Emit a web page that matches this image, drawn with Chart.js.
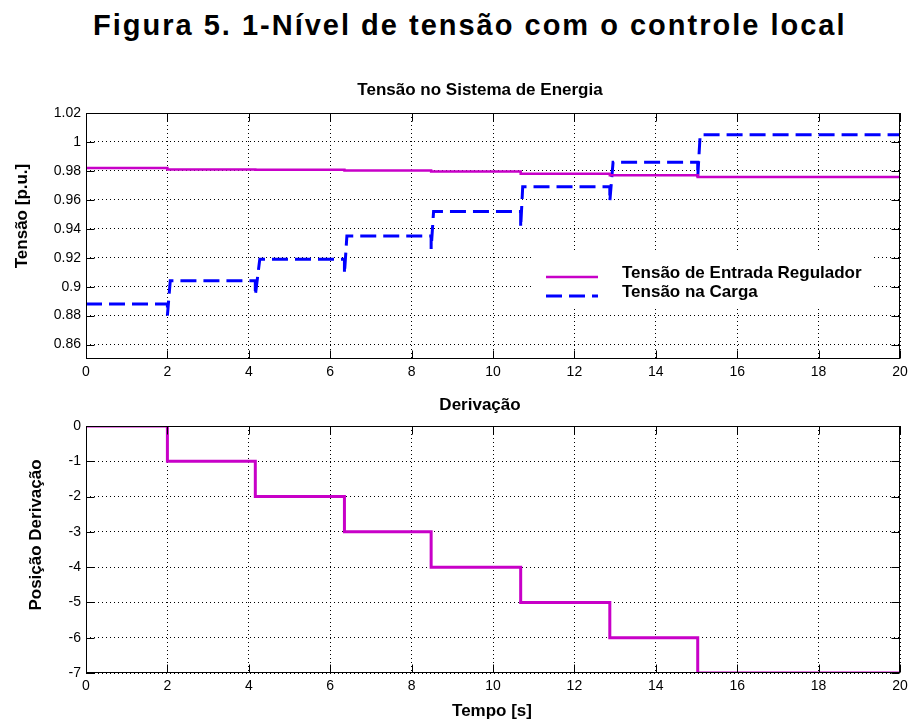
<!DOCTYPE html>
<html>
<head>
<meta charset="utf-8">
<script src="https://cdn.jsdelivr.net/npm/chart.js@4.4.1/dist/chart.umd.min.js"></script>
<style>
  body { margin: 0; background: #fff; width: 908px; height: 720px; overflow: hidden; position: relative; font-family: "Liberation Sans", Arial, sans-serif; }
  #fig-title { position: absolute; left: 93px; top: 11px; font-weight: bold; font-size: 29px; line-height: 1; letter-spacing: 2px; color: #000; white-space: nowrap; }
  canvas { position: absolute; left: 0; }
</style>
</head>
<body>
<div id="fig-title">Figura 5. 1-Nível de tensão com o controle local</div>
<canvas id="voltageChart" width="908" height="320" style="top:60px"></canvas>
<canvas id="tapChart" width="908" height="340" style="top:380px"></canvas>

<script>
// --- Data ---
const timeTicks = [0, 2, 4, 6, 8, 10, 12, 14, 16, 18, 20];
const voltageTicks = [0.86, 0.88, 0.9, 0.92, 0.94, 0.96, 0.98, 1, 1.02];
const tapTicks = [0, -1, -2, -3, -4, -5, -6, -7];

// tap change instants [s] and end of the load voltage recovery after each one
const switchTimes = [2.0, 4.16, 6.35, 8.48, 10.68, 12.87, 15.03];
const recoveryTimes = [2.07, 4.27, 6.41, 8.54, 10.73, 12.95, 15.09];

// voltage levels between tap changes [p.u.]
const regulatorVoltage = [0.982, 0.981, 0.9808, 0.9802, 0.9795, 0.978, 0.977, 0.9757];
const loadVoltage = [0.888, 0.904, 0.919, 0.935, 0.952, 0.969, 0.986, 1.005];
const loadDip = [0.880, 0.894, 0.909, 0.926, 0.941, 0.959, 0.9755];

const tapPosition = [0, -1, -2, -3, -4, -5, -6, -7];
const seriesNames = ['Tensão de Entrada Regulador', 'Tensão na Carga'];

const FONT = '"Liberation Sans", Arial, sans-serif';
const LABEL_FONT = 'bold 17px ' + FONT;
const MAGENTA = '#c800c8';
const BLUE = '#0000ff';

// --- Build step series ---
function stepSeries(levels) {
    const pts = [{ x: 0, y: levels[0] }];
    switchTimes.forEach((t, i) => {
        pts.push({ x: t, y: levels[i] }, { x: t, y: levels[i + 1] });
    });
    pts.push({ x: 20, y: levels[levels.length - 1] });
    return pts;
}

function loadSeries() {
    const pts = [{ x: 0, y: loadVoltage[0] }];
    switchTimes.forEach((t, i) => {
        pts.push({ x: t, y: loadVoltage[i] }, { x: t, y: loadDip[i] }, { x: recoveryTimes[i], y: loadVoltage[i + 1] });
    });
    pts.push({ x: 20, y: loadVoltage[loadVoltage.length - 1] });
    return pts;
}

// --- MATLAB style frame: box, inward ticks, titles, legend ---
function framePlugin(cfg) {
    return {
        id: 'frame',
        beforeDatasetsDraw(chart) {
            if (!cfg.legend) return;
            const b = cfg.legend.box;
            chart.ctx.save();
            chart.ctx.fillStyle = '#fff';
            chart.ctx.fillRect(b.x, b.y - cfg.top, b.w, b.h);
            chart.ctx.restore();
        },
        afterDatasetsDraw(chart) {
            const { ctx, chartArea: a, scales: { x, y } } = chart;
            const L = Math.round(a.left) + 0.5, R = Math.round(a.right) - 0.5;
            const T = Math.round(a.top) + 0.5, B = Math.round(a.bottom) - 0.5;
            ctx.save();
            ctx.strokeStyle = '#000';
            ctx.lineWidth = 1;
            ctx.setLineDash([]);
            ctx.strokeRect(L, T, R - L, B - T);
            ctx.beginPath();
            timeTicks.forEach(v => {
                const px = Math.round(x.getPixelForValue(v)) + 0.5;
                ctx.moveTo(px, T); ctx.lineTo(px, T + 8);
                ctx.moveTo(px, B); ctx.lineTo(px, B - 8);
            });
            cfg.yTicks.forEach(v => {
                const py = Math.round(y.getPixelForValue(v)) + 0.5;
                ctx.moveTo(L, py); ctx.lineTo(L + 8, py);
                ctx.moveTo(R, py); ctx.lineTo(R - 8, py);
            });
            ctx.stroke();

            if (cfg.legend) {
                const lg = cfg.legend;
                chart.data.datasets.forEach((ds, i) => {
                    const ly = lg.lineY[i] - cfg.top;
                    ctx.strokeStyle = ds.borderColor;
                    ctx.lineWidth = ds.borderWidth;
                    ctx.setLineDash(ds.borderDash || []);
                    ctx.beginPath();
                    ctx.moveTo(lg.x1, ly); ctx.lineTo(lg.x2, ly);
                    ctx.stroke();
                    ctx.setLineDash([]);
                    ctx.fillStyle = '#000';
                    ctx.font = LABEL_FONT;
                    ctx.textAlign = 'left';
                    ctx.textBaseline = 'middle';
                    ctx.fillText(seriesNames[i], lg.textX, lg.textY[i] - cfg.top);
                });
            }
            ctx.restore();
        },
        afterDraw(chart) {
            const ctx = chart.ctx;
            ctx.save();
            ctx.fillStyle = '#000';
            ctx.font = LABEL_FONT;
            ctx.textAlign = 'center';
            ctx.textBaseline = 'middle';
            ctx.fillText(cfg.title, cfg.titleX, cfg.titleY - cfg.top);
            if (cfg.xLabel) ctx.fillText(cfg.xLabel, cfg.xLabelX, cfg.xLabelY - cfg.top);
            ctx.translate(cfg.yLabelX, cfg.yLabelY - cfg.top);
            ctx.rotate(-Math.PI / 2);
            ctx.fillText(cfg.yLabel, 0, 0);
            ctx.restore();
        }
    };
}

function axisOptions(ticks, min, max, fit, fmt) {
    return {
        type: 'linear', min, max,
        afterBuildTicks: s => { s.ticks = ticks.map(v => ({ value: v })); },
        afterFit: fit,
        grid: { color: '#000', lineWidth: 1, drawTicks: false },
        border: { display: false, dash: [1, 3] },
        ticks: {
            padding: 5, color: '#000', autoSkip: false, maxRotation: 0,
            font: { family: FONT, size: 14 },
            callback: fmt || (v => String(v))
        }
    };
}

function baseOptions(padTop, xHeight, yTicks, yMin, yMax) {
    return {
        responsive: false,
        animation: false,
        layout: { padding: { top: padTop, right: 8, left: 0, bottom: 0 } },
        elements: { point: { radius: 0 }, line: { tension: 0 } },
        plugins: { legend: { display: false }, tooltip: { enabled: false } },
        scales: {
            x: axisOptions(timeTicks, 0, 20, s => {
                s.height = xHeight;
                s.paddingLeft = 0; s.paddingRight = 0;
            }),
            y: axisOptions(yTicks, yMin, yMax, s => {
                s.width = 86;
                s.paddingTop = 0; s.paddingBottom = 0;
            }, v => String(+v.toFixed(2)))
        }
    };
}

// --- Voltage chart ---
new Chart(document.getElementById('voltageChart'), {
    type: 'line',
    data: {
        datasets: [
            { data: stepSeries(regulatorVoltage), borderColor: MAGENTA, borderWidth: 2.5, clip: 0 },
            { data: loadSeries(), borderColor: BLUE, borderWidth: 3, borderDash: [16, 7], clip: 0 }
        ]
    },
    options: baseOptions(53, 21, voltageTicks, 0.85, 1.02),
    plugins: [framePlugin({
        top: 60, yTicks: voltageTicks,
        title: 'Tensão no Sistema de Energia', titleX: 480, titleY: 90,
        yLabel: 'Tensão [p.u.]', yLabelX: 22, yLabelY: 216,
        legend: {
            box: { x: 532, y: 250, w: 342, h: 58 },
            x1: 546, x2: 598, lineY: [277, 296], textX: 622, textY: [273, 292]
        }
    })]
});

// --- Tap position chart ---
new Chart(document.getElementById('tapChart'), {
    type: 'line',
    data: {
        datasets: [
            { data: stepSeries(tapPosition), borderColor: MAGENTA, borderWidth: 3, clip: 0 }
        ]
    },
    options: baseOptions(46, 47, tapTicks, -7, 0),
    plugins: [framePlugin({
        top: 380, yTicks: tapTicks,
        title: 'Derivação', titleX: 480, titleY: 405,
        xLabel: 'Tempo [s]', xLabelX: 492, xLabelY: 711,
        yLabel: 'Posição Derivação', yLabelX: 36, yLabelY: 535
    })]
});
</script>
</body>
</html>
